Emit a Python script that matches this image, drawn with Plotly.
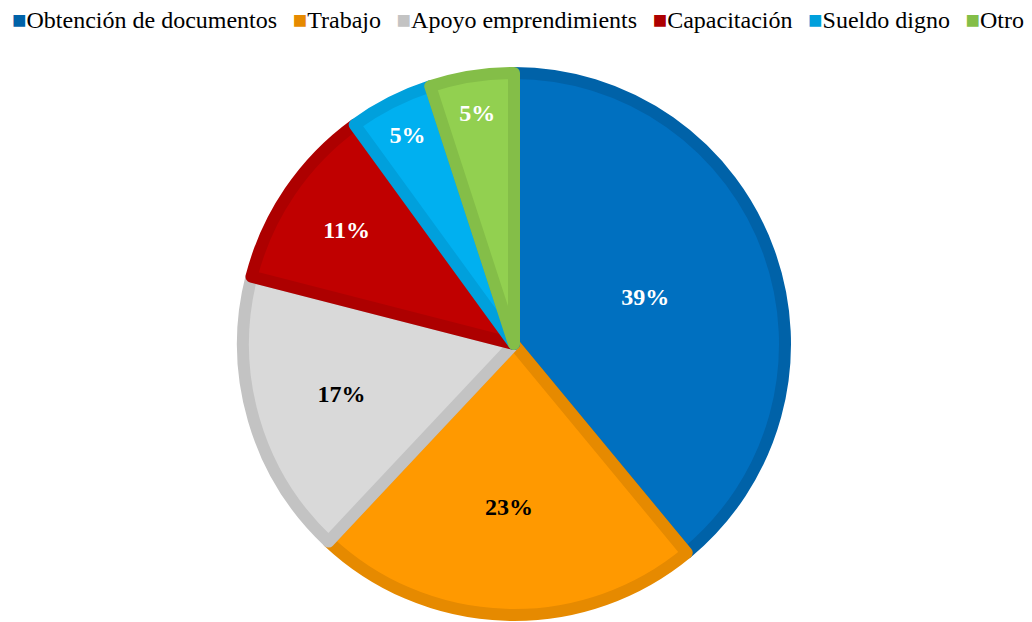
import plotly.graph_objects as go

labels = ["Obtención de documentos", "Trabajo", "Apoyo emprendimients",
          "Capacitación", "Sueldo digno", "Otro"]
values = [39, 23, 17, 11, 5, 5]

fill_colors = ["#0070C0", "#FF9900", "#D9D9D9", "#C00000", "#00B0F0", "#92D050"]
edge_colors = ["#0062A8", "#E68A00", "#C3C3C3", "#AD0000", "#00A0DC", "#84BE48"]
text_colors = ["white", "black", "black", "white", "white", "white"]

_FONT = "Liberation Serif"

# the page body has an 8px margin, so positions below are shifted by -8px
fig = go.Figure(go.Pie(
    labels=labels,
    values=values,
    sort=False,
    direction="clockwise",
    rotation=0,
    marker=dict(colors=fill_colors, line=dict(color=edge_colors, width=12)),
    texttemplate="%{percent:.0%}",
    textposition="inside",
    insidetextorientation="horizontal",
    textfont=dict(family=_FONT, size=24, color=text_colors, weight="bold"),
    domain=dict(x=[0, 1012 / 1032], y=[15 / 622, 557 / 622]),
    showlegend=False,
    hoverinfo="label+percent",
))

# legend drawn as one line of text, square swatches in the edge colours
legend_text = "\u2009\u2009 ".join(
    f"<span style='color:{c}'>■</span>{lab}"
    for lab, c in zip(labels, edge_colors)
)
fig.add_annotation(
    text=legend_text,
    xref="paper", yref="paper", x=510 / 1032, y=1 - 12 / 622,
    xanchor="center", yanchor="middle",
    showarrow=False,
    font=dict(family=_FONT, size=24, color="#000"),
)

fig.update_layout(
    width=1032, height=622,
    paper_bgcolor="white", plot_bgcolor="white",
    margin=dict(l=0, r=0, t=0, b=0),
    font=dict(family=_FONT, color="#000"),
)

fig.write_html("out.html")
